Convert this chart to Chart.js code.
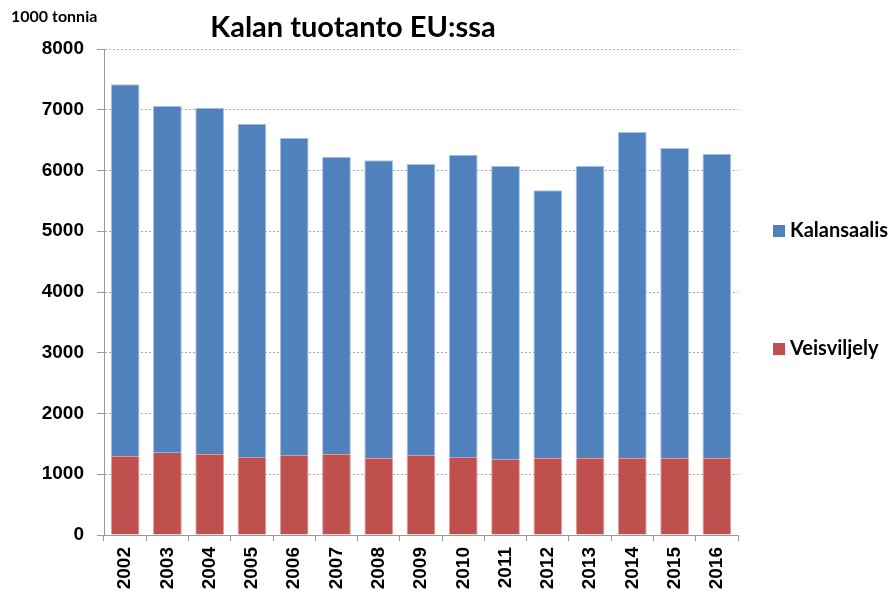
<!DOCTYPE html>
<html>
<head>
<meta charset="utf-8">
<script src="https://cdn.jsdelivr.net/npm/chart.js@4/dist/chart.umd.min.js"></script>
<style>
  html,body{margin:0;padding:0;background:#fff;}
  #wrap{width:889px;height:591px;position:relative;}
</style>
</head>
<body>
<div id="wrap"><canvas id="c" width="889" height="591"></canvas></div>
<script>
// years and values (1000 tonnes)
const years=["2002","2003","2004","2005","2006","2007","2008","2009","2010","2011","2012","2013","2014","2015","2016"];
const veisviljely=[1295,1355,1328,1279,1312,1328,1262,1312,1279,1246,1262,1262,1262,1262,1262];
const kalansaalis=[6124,5707,5706,5491,5223,4900,4905,4795,4981,4828,4412,4812,5372,5108,5015];
const yTicks=[0,1000,2000,3000,4000,5000,6000,7000,8000];

const titleText="Kalan tuotanto EU:ssa";
const unitText="1000 tonnia";

// title, unit label and the legend drawn by hand
const extras={
  id:"extras",
  afterDraw(chart){
    const ctx=chart.ctx;
    ctx.save();
    ctx.fillStyle="#000";
    ctx.textBaseline="middle";
    ctx.textAlign="center";
    ctx.font="bold 29px Lato";
    ctx.fillText(titleText,353,28);
    ctx.textAlign="left";
    ctx.font="bold 16px Lato";
    ctx.fillText(unitText,11,17);
    // legend: top entry is the top of the stack
    const items=[chart.data.datasets[1],chart.data.datasets[0]];
    const ys=[231,349];
    ctx.font="bold 20px Lato";
    items.forEach((ds,i)=>{
      ctx.fillStyle=ds.backgroundColor;
      ctx.fillRect(773,ys[i]-6,12,12);
      ctx.fillStyle="#000";
      ctx.fillText(ds.label,790,ys[i]);
    });
    ctx.restore();
  }
};

new Chart(document.getElementById("c").getContext("2d"),{
  type:"bar",
  data:{
    labels:years,
    datasets:[
      {label:"Veisviljely",data:veisviljely,backgroundColor:"#C0504D",borderColor:"#d9a09e",borderWidth:{left:1,right:1,top:0,bottom:0},barPercentage:0.68,categoryPercentage:1},
      {label:"Kalansaalis",data:kalansaalis,backgroundColor:"#4F81BD",borderColor:"#a9c1e0",borderWidth:{left:1,right:1,top:1,bottom:0},barPercentage:0.68,categoryPercentage:1}
    ]
  },
  options:{
    responsive:false,
    animation:false,
    layout:{padding:{left:0,right:151,top:49,bottom:0}},
    plugins:{legend:{display:false},tooltip:{enabled:false}},
    scales:{
      x:{
        stacked:true,
        afterFit(s){s.height=56;},
        grid:{display:true,drawOnChartArea:false,drawTicks:true,tickLength:6,color:"#999",offset:true},
        border:{display:true,color:"#999",width:1},
        ticks:{color:"#000",font:{family:"Liberation Sans",size:19,weight:"bold"},minRotation:90,maxRotation:90,padding:6,autoSkip:false}
      },
      y:{
        stacked:true,
        min:0,max:8000,
        afterFit(s){s.width=104;},
        afterBuildTicks(s){s.ticks=yTicks.map(v=>({value:v}));},
        grid:{color:"#aaa",lineWidth:1,tickLength:7,tickColor:"#999",drawTicks:true,tickBorderDash:[]},
        border:{display:true,color:"#999",width:1,dash:[2,2]},
        ticks:{color:"#000",font:{family:"Liberation Sans",size:19,weight:"bold"},padding:13,callback:v=>String(v)}
      }
    }
  },
  plugins:[extras]
});
</script>
</body>
</html>
